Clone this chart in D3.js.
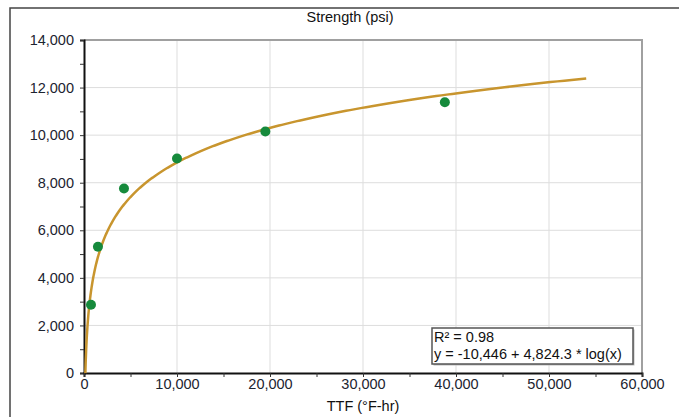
<!DOCTYPE html>
<html>
<head>
<meta charset="utf-8">
<script src="https://cdn.jsdelivr.net/npm/d3@7"></script>
<style>
  html, body { margin: 0; padding: 0; background: #fff; }
  svg { display: block; font-family: "Liberation Sans", Arial, sans-serif; }
</style>
</head>
<body>
<svg id="chart" width="679" height="417"></svg>
<script>
// ---- data ----
const ttf = [750, 1500, 4300, 10000, 19500, 38800];          // TTF (°F-hr)
const strength = [2870, 5310, 7760, 9020, 10150, 11380];     // Strength (psi)
const trendCoef = [-10446, 4824.3];                          // y = a + b*log10(x), from the chart label
const trendRange = [146, 54000];                             // x extent of the drawn trendline
const rSquared = "0.98";
const xTicks = [0, 10000, 20000, 30000, 40000, 50000, 60000];
const yTicks = [0, 2000, 4000, 6000, 8000, 10000, 12000, 14000];
const chartTitle = "Strength (psi)";
const xTitle = "TTF (°F-hr)";

const W = 679, H = 417;
const m = {left: 84, right: 37, top: 40, bottom: 44};
const FS = 14.5;
const svg = d3.select("#chart");
const fmt = d3.format(",");

const x = d3.scaleLinear().domain([0, 60000]).range([m.left, W - m.right]);
const y = d3.scaleLinear().domain([0, 14000]).range([H - m.bottom, m.top]);

// outer frame (top and left edge)
svg.append("path").attr("d", `M10,${H} L10,8 L${W},8`)
  .attr("fill", "none").attr("stroke", "#444").attr("stroke-width", 1.5);

// title
svg.append("text").attr("x", 350).attr("y", 22).attr("text-anchor", "middle")
  .attr("font-size", FS).attr("fill", "#111").text(chartTitle);

// gridlines
svg.append("g").selectAll("line").data(xTicks.slice(1, -1)).join("line")
  .attr("x1", d => x(d)).attr("x2", d => x(d)).attr("y1", y(0)).attr("y2", y(14000))
  .attr("stroke", "#dddddd").attr("stroke-width", 1);
svg.append("g").selectAll("line").data(yTicks.slice(1, -1)).join("line")
  .attr("x1", x(0)).attr("x2", x(60000)).attr("y1", d => y(d)).attr("y2", d => y(d))
  .attr("stroke", "#dddddd").attr("stroke-width", 1);

// plot area top & right border
svg.append("path").attr("d", `M${x(0)},${y(14000)} L${x(60000)},${y(14000)} L${x(60000)},${y(0)}`)
  .attr("fill", "none").attr("stroke", "#a0a0a0").attr("stroke-width", 2);

// axes
const yAxis = d3.axisLeft(y).tickValues(d3.range(0, 14001, 1000)).tickSize(4)
  .tickFormat(d => yTicks.includes(d) ? fmt(d) : "");
const gy = svg.append("g").attr("transform", `translate(${x(0)},0)`).call(yAxis);
gy.select(".domain").attr("stroke", "#111").attr("stroke-width", 2);
gy.selectAll(".tick line").attr("stroke", "#333");
gy.selectAll(".tick text").attr("font-size", FS).attr("fill", "#1c2430")
  .attr("font-family", "Liberation Sans, Arial, sans-serif").attr("x", -10);

const xAxis = d3.axisBottom(x).tickValues(d3.range(0, 60001, 5000)).tickSize(4)
  .tickFormat(d => xTicks.includes(d) ? fmt(d) : "");
const gx = svg.append("g").attr("transform", `translate(0,${y(0)})`).call(xAxis);
gx.select(".domain").attr("stroke", "#111").attr("stroke-width", 2);
gx.selectAll(".tick line").attr("stroke", "#333");
gx.selectAll(".tick text").attr("font-size", FS).attr("fill", "#1c2430")
  .attr("font-family", "Liberation Sans, Arial, sans-serif").attr("y", 6);

// x axis title
svg.append("text").attr("x", 363).attr("y", 411).attr("text-anchor", "middle")
  .attr("font-size", FS).attr("fill", "#111").text(xTitle);

// trendline from the displayed equation
const trendX = d3.range(0, 401).map(i => trendRange[0] * Math.pow(trendRange[1] / trendRange[0], i / 400));
const line = d3.line().x(d => x(d)).y(d => y(trendCoef[0] + trendCoef[1] * Math.log10(d)));
svg.append("path").datum(trendX).attr("d", line)
  .attr("fill", "none").attr("stroke", "#c8952e").attr("stroke-width", 2.5);

// data points
svg.append("g").selectAll("circle").data(ttf).join("circle")
  .attr("cx", d => x(d)).attr("cy", (d, i) => y(strength[i])).attr("r", 5)
  .attr("fill", "#168a3c");

// equation box
const bx = 432, by = 328, bw = 201, bh = 36;
svg.append("rect").attr("x", bx + 1.5).attr("y", by + 1.5).attr("width", bw).attr("height", bh)
  .attr("fill", "#bbb");
svg.append("rect").attr("x", bx).attr("y", by).attr("width", bw).attr("height", bh)
  .attr("fill", "#fff").attr("stroke", "#555").attr("stroke-width", 1.5);
const fmtA = d3.format(",.0f"), fmtB = d3.format(",.1f");
svg.append("text").attr("x", bx + 2).attr("y", by + 14).attr("font-size", FS).attr("fill", "#111")
  .text(`R² = ${rSquared}`);
svg.append("text").attr("x", bx + 2).attr("y", by + 31).attr("font-size", FS).attr("fill", "#111")
  .text(`y = ${fmtA(trendCoef[0]).replace("−", "-")} + ${fmtB(trendCoef[1])} * log(x)`);
</script>
</body>
</html>
